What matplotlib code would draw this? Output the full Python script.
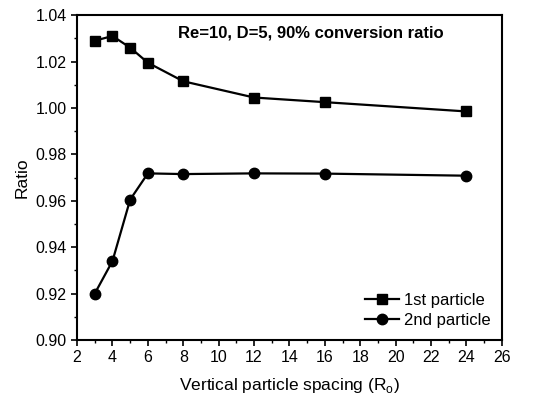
import matplotlib
matplotlib.use("Agg")
import matplotlib.pyplot as plt
from matplotlib.ticker import MultipleLocator

plt.rcParams['font.family'] = ['Liberation Sans', 'DejaVu Sans']

spacing = [3, 4, 5, 6, 8, 12, 16, 24]
first_particle = [1.029, 1.031, 1.026, 1.0195, 1.0115, 1.0045, 1.0025, 0.9985]
second_particle = [0.920, 0.934, 0.9605, 0.9718, 0.9715, 0.9718, 0.9717, 0.9708]
x_ticks = list(range(2, 27, 2))
y_ticks = [0.90, 0.92, 0.94, 0.96, 0.98, 1.00, 1.02, 1.04]

fig = plt.figure(figsize=(5.39, 3.99), dpi=100)
ax = fig.add_axes([0.143, 0.148, 0.788, 0.814])

ax.plot(spacing, first_particle, color='black', marker='s', markersize=7.5, lw=1.6, label='1st particle')
ax.plot(spacing, second_particle, color='black', marker='o', markersize=7.5, lw=1.6, label='2nd particle')

ax.set_xlim(2, 26)
ax.set_ylim(0.90, 1.04)
ax.set_xticks(x_ticks)
ax.set_yticks(y_ticks)
ax.set_yticklabels([f"{v:.2f}" for v in y_ticks])
ax.xaxis.set_minor_locator(MultipleLocator(1))
ax.yaxis.set_minor_locator(MultipleLocator(0.01))
ax.tick_params(which='major', direction='out', length=4, width=1.2, labelsize=11.5)
ax.tick_params(which='minor', direction='out', length=2, width=1)
for s in ax.spines.values():
    s.set_linewidth(1.5)

ax.set_xlabel("Vertical particle spacing (R$_{\\mathregular{o}}$)", fontsize=12.5, labelpad=8)
ax.set_ylabel("Ratio", fontsize=12.5)
ax.text(0.55, 0.945, "Re=10, D=5, 90% conversion ratio", transform=ax.transAxes,
        ha='center', va='center', fontsize=12, fontweight='bold')
ax.legend(loc='lower right', frameon=False, fontsize=12, handlelength=2.0,
          borderaxespad=0.3, labelspacing=0.3, handletextpad=0.3)

fig.savefig("out.png", dpi=100)
